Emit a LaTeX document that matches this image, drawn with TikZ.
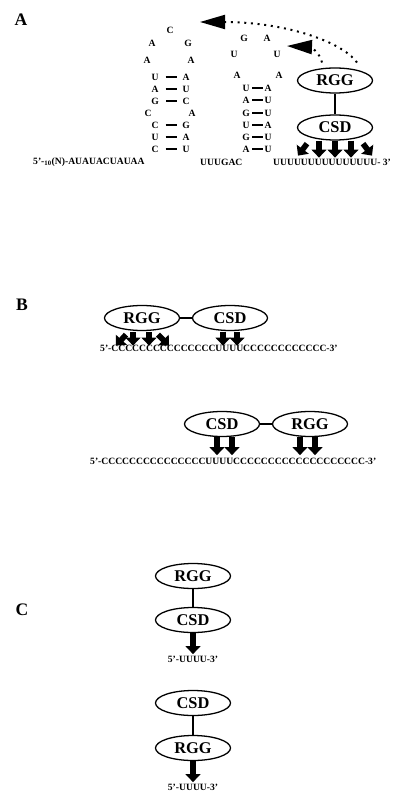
\documentclass[tikz,border=0pt]{standalone}
\usepackage{fontspec}
\setmainfont{Liberation Serif}
\usepackage{tikz}
\usetikzlibrary{arrows.meta, positioning, shapes.geometric, calc}

\begin{document}
\begin{tikzpicture}[x=0.03cm, y=-0.03cm,
        dom/.style={ellipse, draw, line width=1.1pt, minimum width=2.25cm, minimum height=0.75cm, inner sep=0pt, font=\fontsize{14}{14}\selectfont\bfseries},
        link/.style={line width=1pt},
        nt/.style={inner sep=0pt, font=\fontsize{8.2}{9}\selectfont\bfseries},
        seq/.style={inner sep=0pt, anchor=west, font=\fontsize{8.2}{9}\selectfont\bfseries},
        panel/.style={inner sep=0pt, font=\fontsize{15}{15}\selectfont\bfseries},
        bpL/.style={line width=1.6pt, shorten <=6pt, shorten >=4.3pt},
        bpR/.style={line width=1.6pt, shorten <=2pt, shorten >=1.5pt},
        bindarrow/.style={line width=1.7mm, -{Triangle[length=2.4mm, width=4.4mm]}},
        hop/.style={line width=1.7pt, dash pattern=on 1.7pt off 4pt, -{Triangle[length=7.5mm, width=4.2mm]}}
    ]
        \useasboundingbox (0,0) rectangle (400,797);

        % Panel A: stem-loops
        \node[panel] (labA) at (21,20) {A};

        \node[nt] (la1) at (170,30) {C};
        \node[nt] (la2) at (152,43) {A};
        \node[nt] (la3) at (188,43) {G};
        \node[nt] (la4) at (147,60) {A};
        \node[nt] (la5) at (191,60) {A};
        \node[nt] (ls1) at (155,77) {U};  \node[nt] (rs1) at (186,77) {A};  \draw[bpL] (ls1) -- (rs1);
        \node[nt] (ls2) at (155,89) {A};  \node[nt] (rs2) at (186,89) {U};  \draw[bpL] (ls2) -- (rs2);
        \node[nt] (ls3) at (155,101) {G}; \node[nt] (rs3) at (186,101) {C}; \draw[bpL] (ls3) -- (rs3);
        \node[nt] (ls4) at (148,113) {C}; \node[nt] (rs4) at (192,113) {A};
        \node[nt] (ls5) at (155,125) {C}; \node[nt] (rs5) at (186,125) {G}; \draw[bpL] (ls5) -- (rs5);
        \node[nt] (ls6) at (155,137) {U}; \node[nt] (rs6) at (186,137) {A}; \draw[bpL] (ls6) -- (rs6);
        \node[nt] (ls7) at (155,149) {C}; \node[nt] (rs7) at (186,149) {U}; \draw[bpL] (ls7) -- (rs7);

        \node[nt] (lb1) at (244,38) {G};
        \node[nt] (lb2) at (267,38) {A};
        \node[nt] (lb3) at (234,54) {U};
        \node[nt] (lb4) at (277,54) {U};
        \node[nt] (lb5) at (237,75) {A};
        \node[nt] (lb6) at (279,75) {A};
        \node[nt] (lt1) at (246,88) {U};  \node[nt] (rt1) at (268,88) {A};  \draw[bpR] (lt1) -- (rt1);
        \node[nt] (lt2) at (246,100) {A}; \node[nt] (rt2) at (268,100) {U}; \draw[bpR] (lt2) -- (rt2);
        \node[nt] (lt3) at (246,113) {G}; \node[nt] (rt3) at (268,113) {U}; \draw[bpR] (lt3) -- (rt3);
        \node[nt] (lt4) at (246,125) {U}; \node[nt] (rt4) at (268,125) {A}; \draw[bpR] (lt4) -- (rt4);
        \node[nt] (lt5) at (246,137) {G}; \node[nt] (rt5) at (268,137) {U}; \draw[bpR] (lt5) -- (rt5);
        \node[nt] (lt6) at (246,149) {A}; \node[nt] (rt6) at (268,149) {U}; \draw[bpR] (lt6) -- (rt6);

        \node[seq] (seqA1) at (33,162) {5'-\textsubscript{10}(N)-AUAUACUAUAA};
        \node[seq] (seqA2) at (200,162) {UUUGAC};
        \node[seq] (seqA3) at (273,162) {UUUUUUUUUUUUUUU- 3'};

        % Panel A: protein
        \node[dom] (rggA) at (335,80.5) {RGG};
        \node[dom] (csdA) at (335,127.5) {CSD};
        \draw[link] (rggA) -- (csdA);
        \draw[bindarrow] ($(csdA.south)+(-28,3)$) -- ++(-9,12);
        \draw[bindarrow] ($(csdA.south)+(-16,0)$) -- ++(0,17);
        \draw[bindarrow] (csdA.south) -- ++(0,17);
        \draw[bindarrow] ($(csdA.south)+(16,0)$) -- ++(0,17);
        \draw[bindarrow] ($(csdA.south)+(28,3)$) -- ++(9,12);

        \coordinate (farhop) at ($(rggA)+(22,-18)$);
        \coordinate (nearhop) at ($(rggA)+(-13,-18)$);
        \coordinate (stemtip) at (200,22);
        \coordinate (looptip) at (287,46);
        \draw[hop] (farhop) .. controls +(-17,-23) and +(80,0) .. (stemtip);
        \draw[hop] (nearhop) .. controls +(-2,-10) and +(23,1) .. (looptip);

        % Panel B: RGG first
        \node[panel] (labB) at (22,305) {B};
        \node[dom] (rggB1) at (142,318) {RGG};
        \node[dom] (csdB1) at (230,318) {CSD};
        \draw[link] (rggB1) -- (csdB1);
        \draw[bindarrow] ($(rggB1.south)+(-16,3.5)$) -- ++(-10,11);
        \draw[bindarrow] ($(rggB1.south)+(-9,1)$) -- ++(0,13.5);
        \draw[bindarrow] ($(rggB1.south)+(7,1)$) -- ++(0,13.5);
        \draw[bindarrow] ($(rggB1.south)+(16,3.5)$) -- ++(11,11);
        \draw[bindarrow] ($(csdB1.south)+(-7,1)$) -- ++(0,13.5);
        \draw[bindarrow] ($(csdB1.south)+(7,1)$) -- ++(0,13.5);
        \node[seq] (seqB1) at (100,348) {5'-CCCCCCCCCCCCCCCUUUUCCCCCCCCCCCC-3'};

        % Panel B: CSD first
        \node[dom] (csdB2) at (222,424) {CSD};
        \node[dom] (rggB2) at (310,424) {RGG};
        \draw[link] (csdB2) -- (rggB2);
        \draw[bindarrow] ($(csdB2.south)+(-5,0)$) -- ++(0,18);
        \draw[bindarrow] ($(csdB2.south)+(10,0)$) -- ++(0,18);
        \draw[bindarrow] ($(rggB2.south)+(-10,0)$) -- ++(0,18);
        \draw[bindarrow] ($(rggB2.south)+(5,0)$) -- ++(0,18);
        \node[seq] (seqB2) at (90,461) {5'-CCCCCCCCCCCCCCCUUUUCCCCCCCCCCCCCCCCCCC-3'};

        % Panel C: single sites
        \node[panel] (labC) at (22,610) {C};
        \node[dom] (rggC1) at (193,576) {RGG};
        \node[dom] (csdC1) at (193,620) {CSD};
        \draw[link] (rggC1) -- (csdC1);
        \draw[bindarrow] (csdC1.south) -- ++(0,21);
        \node[seq, anchor=north, below=0.69cm of csdC1] (seqC1) {5'-UUUU-3'};

        \node[dom] (csdC2) at (193,703) {CSD};
        \node[dom] (rggC2) at (193,748) {RGG};
        \draw[link] (csdC2) -- (rggC2);
        \draw[bindarrow] (rggC2.south) -- ++(0,21);
        \node[seq, anchor=north, below=0.69cm of rggC2] (seqC2) {5'-UUUU-3'};
    \end{tikzpicture}
\end{document}
